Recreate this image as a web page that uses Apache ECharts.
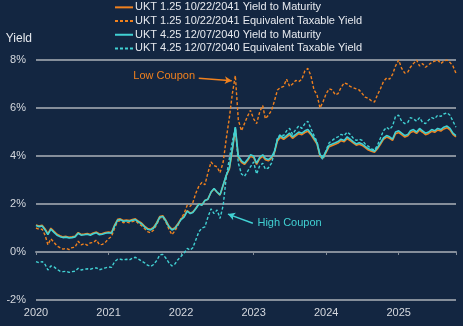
<!DOCTYPE html>
<html>
<head>
<meta charset="utf-8">
<script src="https://cdn.jsdelivr.net/npm/echarts@6/dist/echarts.min.js"></script>
<style>
  html, body { margin: 0; padding: 0; background: #132641; }
  #chart { width: 463px; height: 326px; }
</style>
</head>
<body>
<div id="chart"></div>
<script>
// Semi-monthly observation dates (1st and 16th of each month), Jan 2020 – Oct 2025
const dates = [];
for (let y = 2020; y <= 2025; y++) {
  for (let m = 1; m <= 12; m++) {
    if (y === 2025 && m > 10) break;
    const mm = String(m).padStart(2, '0');
    dates.push(y + '-' + mm + '-01', y + '-' + mm + '-16');
  }
}

const seriesNames = [
  'UKT 1.25 10/22/2041 Yield to Maturity',
  'UKT 1.25 10/22/2041 Equivalent Taxable Yield',
  'UKT 4.25 12/07/2040 Yield to Maturity',
  'UKT 4.25 12/07/2040 Equivalent Taxable Yield'
];

// UKT 1.25 10/22/2041 yield to maturity (%)
const lowCouponYtm = [
  1.13,1.08, 1.11,0.96, 0.76,0.99, 0.86,0.74, 0.68,0.63, 0.65,0.61, 0.63,0.66, 0.81,0.73, 0.75,0.77, 0.73,0.79, 0.83,0.75, 0.77,0.81,
  0.83,0.81, 1.13,1.36, 1.38,1.31, 1.33,1.31, 1.35,1.38, 1.28,1.21, 1.08,0.98, 0.95,1.03, 1.23,1.48, 1.51,1.33, 1.08,0.95, 1.01,1.18,
  1.38,1.48, 1.72,1.62, 1.67,1.82, 2.01,1.96, 2.15,2.20, 2.49,2.64, 2.49,2.37, 2.78,3.17, 3.46,4.24, 5.12,3.94, 3.74,3.65, 3.80,3.99,
  3.94,3.65, 3.89,3.99, 3.84,3.80, 3.90,4.14, 4.63,4.78, 4.69,4.79, 4.88,4.74, 4.84,4.93, 4.89,4.98, 5.03,4.89, 4.69,4.50, 4.00,3.91,
  4.15,4.39, 4.44,4.49, 4.54,4.64, 4.59,4.73, 4.64,4.55, 4.45,4.49, 4.44,4.35, 4.25,4.20, 4.16,4.30, 4.49,4.69, 4.79,4.74, 4.65,4.93,
  4.98,4.89, 4.79,4.84, 4.98,5.03, 4.94,5.08, 4.99,4.89, 4.94,5.03, 4.99,5.08, 5.04,5.13, 5.18,5.09, 4.90,4.80
];

// UKT 1.25 10/22/2041 equivalent taxable yield (%)
const lowCouponEty = [
  1.00,0.95, 0.95,0.70, 0.30,0.55, 0.40,0.25, 0.18,0.12, 0.15,0.10, 0.18,0.20, 0.45,0.30, 0.35,0.28, 0.38,0.40, 0.50,0.30, 0.32,0.40,
  0.55,0.65, 1.00,1.28, 1.30,1.22, 1.25,1.22, 1.27,1.30, 1.18,1.10, 0.98,0.85, 0.80,0.92, 1.15,1.42, 1.45,1.25, 0.95,0.72, 0.88,1.10,
  1.40,1.60, 1.95,1.90, 2.05,2.45, 2.75,2.90, 2.80,3.30, 3.75,3.60, 3.55,3.30, 3.75,4.70, 5.60,6.60, 7.35,5.50, 5.05,5.35, 5.65,5.90,
  5.55,5.35, 5.85,6.10, 5.55,5.70, 5.90,6.30, 6.75,6.85, 6.90,7.20, 6.90,7.00, 7.15,7.10, 7.20,7.55, 7.65,7.35, 6.75,6.55, 6.00,6.25,
  6.60,6.80, 6.75,6.55, 6.60,6.85, 7.05,7.00, 6.90,6.85, 6.80,6.75, 6.60,6.45, 6.40,6.30, 6.25,6.55, 6.80,7.10, 7.25,7.20, 7.40,7.75,
  8.00,7.65, 7.45,7.50, 7.70,7.85, 8.00,7.75, 7.85,7.70, 7.80,7.90, 7.95,8.00, 7.85,7.95, 8.00,7.90, 7.75,7.45
];

// UKT 4.25 12/07/2040 yield to maturity (%)
const highCouponYtm = [
  1.10,1.05, 1.08,0.92, 0.72,0.95, 0.82,0.70, 0.64,0.60, 0.62,0.58, 0.60,0.63, 0.78,0.70, 0.72,0.74, 0.70,0.76, 0.80,0.72, 0.74,0.78,
  0.80,0.78, 1.10,1.33, 1.35,1.28, 1.30,1.28, 1.32,1.35, 1.25,1.18, 1.05,0.95, 0.92,1.00, 1.20,1.45, 1.48,1.30, 1.05,0.92, 0.98,1.15,
  1.35,1.45, 1.70,1.60, 1.65,1.80, 2.00,1.95, 2.15,2.20, 2.50,2.65, 2.50,2.38, 2.80,3.20, 3.50,4.30, 5.20,4.00, 3.80,3.70, 3.85,4.05,
  4.00,3.70, 3.95,4.05, 3.90,3.85, 3.95,4.20, 4.70,4.85, 4.75,4.85, 4.95,4.80, 4.90,5.00, 4.95,5.05, 5.10,4.95, 4.75,4.55, 4.05,3.95,
  4.20,4.45, 4.50,4.55, 4.60,4.70, 4.65,4.80, 4.70,4.60, 4.50,4.55, 4.50,4.40, 4.30,4.25, 4.20,4.35, 4.55,4.75, 4.85,4.80, 4.70,5.00,
  5.05,4.95, 4.85,4.90, 5.05,5.10, 5.00,5.15, 5.05,4.95, 5.00,5.10, 5.05,5.15, 5.10,5.20, 5.25,5.15, 4.95,4.85
];

// UKT 4.25 12/07/2040 equivalent taxable yield (%)
const highCouponEty = [
  -0.40,-0.45, -0.40,-0.52, -0.75,-0.58, -0.62,-0.72, -0.80,-0.82, -0.80,-0.85, -0.82,-0.80, -0.68,-0.75, -0.72,-0.70, -0.72,-0.68, -0.66,-0.74, -0.70,-0.66,
  -0.62,-0.64, -0.40,-0.30, -0.30,-0.33, -0.30,-0.33, -0.26,-0.22, -0.30,-0.38, -0.45,-0.55, -0.60,-0.52, -0.35,-0.12, -0.10,-0.25, -0.45,-0.58, -0.50,-0.32,
  -0.18,-0.05, 0.15,0.08, 0.18,0.50, 0.85,1.00, 1.05,1.45, 1.80,1.60, 1.75,1.40, 1.95,3.10, 3.90,4.60, 5.20,3.70, 3.25,3.15, 3.35,3.55,
  3.75,3.25, 3.60,3.70, 3.45,3.50, 3.70,4.15, 4.75,4.90, 4.85,5.05, 5.15,4.90, 5.10,5.25, 5.15,5.35, 5.45,5.15, 4.85,4.60, 4.00,3.85,
  4.25,4.55, 4.65,4.75, 4.80,4.90, 4.85,5.00, 4.90,4.75, 4.65,4.70, 4.65,4.50, 4.40,4.30, 4.25,4.45, 4.75,5.05, 5.20,5.10, 5.25,5.65,
  5.70,5.45, 5.35,5.40, 5.60,5.55, 5.45,5.60, 5.40,5.35, 5.50,5.60, 5.55,5.70, 5.65,5.75, 5.80,5.70, 5.45,5.20
];

// Axis ticks
const yTicks = { min: -2, max: 8, step: 2 };
const xYears = { min: 2020, max: 2025.79, step: 1 };

// Callouts: label position, arrow tail and arrow head as (date, yield)
const lowCouponNote = { text: 'Low Coupon', at: ['2021-10-08', 7.33], from: ['2022-03-31', 7.24], to: ['2022-09-13', 7.14] };
const highCouponNote = { text: 'High Coupon', at: ['2023-07-01', 1.21], from: ['2022-12-28', 1.20], to: ['2022-08-25', 1.58] };

const ORANGE = '#f0811e';
const TEAL = '#41d1d3';
const FONT = '"Liberation Sans", Arial, sans-serif';

// Legend swatches: a plain stroke and a four-dash stroke
const SOLID_ICON = 'path://M0,0h18v1h-18z';
const DASH_ICON = 'path://M0,0h3v1h-3zM5,0h3v1h-3zM10,0h3v1h-3zM15,0h3v1h-3z';

// Convert an ISO date to a fractional year
function toYear(s) {
  const d = new Date(s + 'T00:00:00Z');
  const y = d.getUTCFullYear();
  const start = Date.UTC(y, 0, 1), end = Date.UTC(y + 1, 0, 1);
  return y + (d.getTime() - start) / (end - start);
}
const xs = dates.map(toYear);
const pairs = vals => vals.map((v, i) => [xs[i], v]);

function callout(note, color) {
  return {
    markLine: {
      silent: true,
      symbol: ['none', 'arrow'],
      symbolSize: [6, 7],
      label: { show: false },
      lineStyle: { color: color, width: 1.5, type: 'solid' },
      data: [[
        { coord: [toYear(note.from[0]), note.from[1]] },
        { coord: [toYear(note.to[0]), note.to[1]] }
      ]]
    },
    markPoint: {
      silent: true,
      symbol: 'circle',
      symbolSize: 0,
      label: {
        show: true, position: 'inside', formatter: note.text,
        color: color, fontSize: 11, fontFamily: FONT
      },
      data: [{ coord: [toYear(note.at[0]), note.at[1]] }]
    }
  };
}

const chart = echarts.init(document.getElementById('chart'), null, { renderer: 'canvas' });

const lineBase = { type: 'line', showSymbol: false, symbol: 'none', xAxisIndex: 0, yAxisIndex: 0 };

chart.setOption({
  backgroundColor: '#132641',
  animation: false,
  textStyle: { fontFamily: FONT },
  legend: {
    orient: 'vertical',
    left: 115,
    top: 1,
    padding: 0,
    itemWidth: 18,
    itemHeight: 2,
    itemGap: 1,
    symbolKeepAspect: false,
    textStyle: { color: '#e6e9ee', fontSize: 11, lineHeight: 12.7, fontFamily: FONT, padding: [0, 0, 0, -3] },
    data: [
      { name: seriesNames[0], icon: SOLID_ICON },
      { name: seriesNames[1], icon: DASH_ICON },
      { name: seriesNames[2], icon: SOLID_ICON },
      { name: seriesNames[3], icon: DASH_ICON }
    ]
  },
  grid: { left: 36, right: 7, top: 60, bottom: 26, containLabel: false },
  xAxis: [
    {
      type: 'value', min: xYears.min, max: xYears.max, interval: xYears.step,
      axisLine: { show: false, onZero: false },
      axisTick: { show: false },
      splitLine: { show: false },
      axisLabel: {
        color: '#d4d8de', fontSize: 11, margin: 7, showMaxLabel: false,
        formatter: v => String(Math.round(v))
      }
    },
    {
      type: 'value', min: xYears.min, max: xYears.max, interval: xYears.step,
      position: 'bottom',
      axisLine: { show: true, onZero: true, lineStyle: { color: '#858e9a', width: 2 } },
      axisTick: { show: true, length: 3, lineStyle: { color: '#858e9a', width: 1 } },
      axisLabel: { show: false },
      splitLine: { show: false }
    }
  ],
  yAxis: {
    type: 'value', min: yTicks.min, max: yTicks.max, interval: yTicks.step,
    name: 'Yield',
    nameLocation: 'end',
    nameGap: 15,
    nameTextStyle: { color: '#e6e9ee', fontSize: 12, align: 'right', padding: [0, 4, 0, 0] },
    axisLine: { show: false },
    axisTick: { show: false },
    axisLabel: { color: '#d4d8de', fontSize: 11, margin: 10, formatter: '{value}%' },
    splitLine: { lineStyle: { color: '#858e9a', width: 2 } }
  },
  series: [
    Object.assign({}, lineBase, {
      name: seriesNames[0], data: pairs(lowCouponYtm),
      lineStyle: { color: ORANGE, width: 1.6 }, itemStyle: { color: ORANGE }
    }),
    Object.assign({}, lineBase, {
      name: seriesNames[1], data: pairs(lowCouponEty),
      lineStyle: { color: ORANGE, width: 1.4, type: [3, 2] }, itemStyle: { color: ORANGE }
    }, callout(lowCouponNote, ORANGE)),
    Object.assign({}, lineBase, {
      name: seriesNames[2], data: pairs(highCouponYtm),
      lineStyle: { color: TEAL, width: 1.6 }, itemStyle: { color: TEAL }
    }),
    Object.assign({}, lineBase, {
      name: seriesNames[3], data: pairs(highCouponEty),
      lineStyle: { color: TEAL, width: 1.4, type: [3, 2] }, itemStyle: { color: TEAL }
    }, callout(highCouponNote, TEAL))
  ]
});
</script>
</body>
</html>
